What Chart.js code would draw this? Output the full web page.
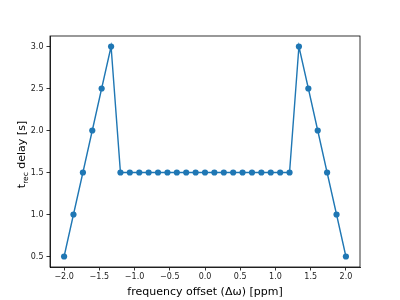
<!DOCTYPE html>
<html>
<head>
<meta charset="utf-8">
<script src="https://cdn.jsdelivr.net/npm/chart.js@4/dist/chart.umd.min.js"></script>
<style>
  html, body { margin: 0; padding: 0; background: #fff; }
  canvas { display: block; }
</style>
</head>
<body>
<canvas id="recChart" width="400" height="300"></canvas>
<script>
// frequency offsets (ppm)
const offsets = [-2.0, -1.867, -1.733, -1.6, -1.467, -1.333, -1.2, -1.067, -0.933, -0.8,
  -0.667, -0.533, -0.4, -0.267, -0.133, 0.0, 0.133, 0.267, 0.4, 0.533,
  0.667, 0.8, 0.933, 1.067, 1.2, 1.333, 1.467, 1.6, 1.733, 1.867, 2.0];
// recovery delay (s)
const delays = [0.5, 1.0, 1.5, 2.0, 2.5, 3.0,
  1.5, 1.5, 1.5, 1.5, 1.5, 1.5, 1.5, 1.5, 1.5, 1.5, 1.5, 1.5, 1.5, 1.5,
  1.5, 1.5, 1.5, 1.5, 1.5,
  3.0, 2.5, 2.0, 1.5, 1.0, 0.5];
const xTicks = [-2.0, -1.5, -1.0, -0.5, 0.0, 0.5, 1.0, 1.5, 2.0];
const yTicks = [0.5, 1.0, 1.5, 2.0, 2.5, 3.0];

const blue = '#1f77b4';
const font = 'DejaVu Sans';

function fmt(v) {
  const s = Math.abs(v).toFixed(1);
  return v < 0 ? '\u2212' + s : s;
}

// frame box + axis labels
const decorations = {
  id: 'decorations',
  afterDraw(chart) {
    const { ctx, chartArea: a } = chart;
    ctx.save();
    ctx.strokeStyle = '#000';
    ctx.lineWidth = 0.8;
    ctx.strokeRect(a.left, a.top, a.right - a.left, a.bottom - a.top);

    ctx.fillStyle = '#000';
    ctx.textBaseline = 'alphabetic';
    // x label
    ctx.font = '11px "' + font + '"';
    ctx.textAlign = 'center';
    ctx.fillText('frequency offset (\u0394\u03c9) [ppm]', (a.left + a.right) / 2, 295);

    // y label with subscript
    ctx.translate(25, (a.top + a.bottom) / 2 + 3);
    ctx.rotate(-Math.PI / 2);
    ctx.textAlign = 'left';
    const big = '11px "' + font + '"';
    const small = '7.5px "' + font + '"';
    ctx.font = big;
    const wT = ctx.measureText('t').width;
    const rest = ' delay [s]';
    const wR = ctx.measureText(rest).width;
    ctx.font = small;
    const wS = ctx.measureText('rec').width;
    let x = -(wT + wS + wR) / 2;
    ctx.font = big;
    ctx.fillText('t', x, 0);
    x += wT;
    ctx.font = small;
    ctx.fillText('rec', x, 2.5);
    x += wS;
    ctx.font = big;
    ctx.fillText(rest, x, 0);
    ctx.restore();
  }
};

new Chart(document.getElementById('recChart'), {
  type: 'scatter',
  data: {
    datasets: [{
      data: offsets.map((x, i) => ({ x: x, y: delays[i] })),
      showLine: true,
      borderColor: blue,
      backgroundColor: blue,
      borderWidth: 1.4,
      pointRadius: 3.1,
      pointHoverRadius: 3.1,
      pointBorderWidth: 0,
      tension: 0
    }]
  },
  options: {
    responsive: false,
    animation: false,
    layout: { padding: { top: 36, right: 40, left: 0, bottom: 0 } },
    plugins: { legend: { display: false }, tooltip: { enabled: false } },
    scales: {
      x: {
        type: 'linear',
        min: -2.2,
        max: 2.2,
        afterBuildTicks(s) { s.ticks = xTicks.map(v => ({ value: v })); },
        afterFit(s) { s.height = 33; },
        grid: { drawOnChartArea: false, drawTicks: true, tickLength: 3.5, color: '#000', tickWidth: 0.8 },
        border: { display: true, color: '#000', width: 0.8 },
        ticks: {
          padding: 2,
          maxRotation: 0,
          autoSkip: false,
          color: '#222',
          font: { family: font, size: 8 },
          callback: v => fmt(v)
        }
      },
      y: {
        type: 'linear',
        min: 0.375,
        max: 3.125,
        afterBuildTicks(s) { s.ticks = yTicks.map(v => ({ value: v })); },
        afterFit(s) { s.width = 50; },
        grid: { drawOnChartArea: false, drawTicks: true, tickLength: 3.5, color: '#000', tickWidth: 0.8 },
        border: { display: true, color: '#000', width: 0.8 },
        ticks: {
          padding: 3,
          autoSkip: false,
          color: '#222',
          font: { family: font, size: 8 },
          callback: v => fmt(v)
        }
      }
    }
  },
  plugins: [decorations]
});
</script>
</body>
</html>
